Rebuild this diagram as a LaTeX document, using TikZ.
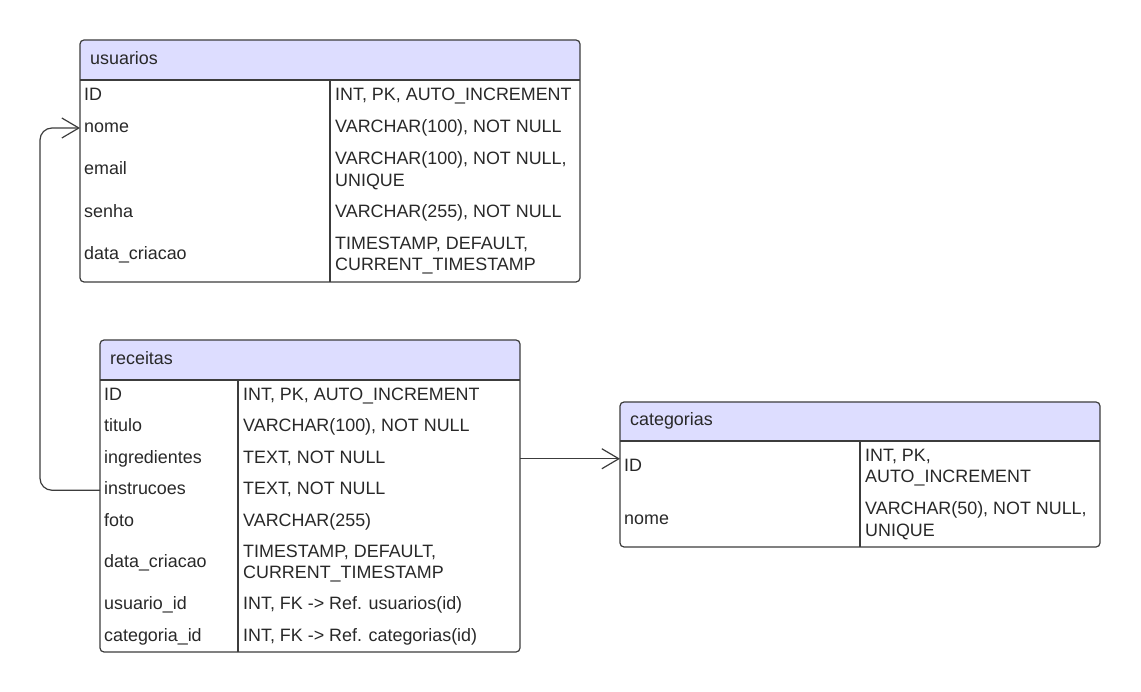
\documentclass[tikz,border=0pt]{standalone}
\usepackage{fontspec}
\setmainfont{Liberation Sans}
\usetikzlibrary{arrows.meta}
\definecolor{hdrblue}{RGB}{221,221,255}
\definecolor{linegray}{RGB}{60,60,60}
\definecolor{txtgray}{RGB}{40,40,40}

\begin{document}
\begin{tikzpicture}[x=1pt,y=-1pt,
	frame/.style={draw=linegray,line width=1.2pt,rounded corners=4pt,inner sep=0pt,outer sep=0pt},
	rule/.style={draw=linegray,line width=1.2pt},
	txt/.style={anchor=west,inner sep=0pt,text=txtgray,font=\fontsize{17.9}{21.5}\selectfont},
	fld/.style={txt,text height=12.8pt,text depth=4pt},
	fld2/.style={txt,align=left},
	link/.style={draw=linegray,line width=1.2pt,-{Straight Barb[length=17pt,width=20pt]}}]
	
	\useasboundingbox (0,0) rectangle (1141,692);
	
	% usuarios
	\fill[hdrblue,rounded corners=4pt] (80,40) rectangle (580,80);
	\fill[hdrblue] (80,60) rectangle (580,80);
	\node[frame,minimum width=500pt,minimum height=242pt] (us) at (330,161) {};
	\draw[rule] (80,80) -- (580,80);
	\draw[rule] (330,80) -- (330,282);
	\node[fld] (us-t)     at (90,60)     {usuarios};
	\node[fld] (us-id)    at (84,96)     {ID};
	\node[fld] (us-idv)   at (335,96)    {INT, PK, AUTO\_INCREMENT};
	\node[fld] (us-nome)  at (84,128)    {nome};
	\node[fld] (us-nomev) at (335,128)   {VARCHAR(100), NOT NULL};
	\node[fld] (us-mail)  at (84,170.5)  {email};
	\node[fld2] (us-mailv) at (335,170.5) {VARCHAR(100), NOT NULL,\\UNIQUE};
	\node[fld] (us-pw)    at (84,213)    {senha};
	\node[fld] (us-pwv)   at (335,213)   {VARCHAR(255), NOT NULL};
	\node[fld] (us-dt)    at (84,255.5)  {data\_criacao};
	\node[fld2] (us-dtv)  at (335,255.5) {TIMESTAMP, DEFAULT,\\CURRENT\_TIMESTAMP};
	
	% receitas
	\fill[hdrblue,rounded corners=4pt] (100,340) rectangle (520,380);
	\fill[hdrblue] (100,360) rectangle (520,380);
	\node[frame,minimum width=420pt,minimum height=312pt] (rc) at (310,496) {};
	\draw[rule] (100,380) -- (520,380);
	\draw[rule] (238,380) -- (238,652);
	\node[fld] (rc-t)     at (110,360)    {receitas};
	\node[fld] (rc-id)    at (104,395.75) {ID};
	\node[fld] (rc-idv)   at (243,395.75) {INT, PK, AUTO\_INCREMENT};
	\node[fld] (rc-tit)   at (104,427.25) {titulo};
	\node[fld] (rc-titv)  at (243,427.25) {VARCHAR(100), NOT NULL};
	\node[fld] (rc-ing)   at (104,458.75) {ingredientes};
	\node[fld] (rc-ingv)  at (243,458.75) {TEXT, NOT NULL};
	\node[fld] (rc-ins)   at (104,490.25) {instrucoes};
	\node[fld] (rc-insv)  at (243,490.25) {TEXT, NOT NULL};
	\node[fld] (rc-foto)  at (104,521.75) {foto};
	\node[fld] (rc-fotov) at (243,521.75) {VARCHAR(255)};
	\node[fld] (rc-dt)    at (104,563.5)  {data\_criacao};
	\node[fld2] (rc-dtv)  at (243,563.5)  {TIMESTAMP, DEFAULT,\\CURRENT\_TIMESTAMP};
	\node[fld] (rc-us)    at (104,605.25) {usuario\_id};
	\node[fld] (rc-usv)   at (243,605.25) {INT, FK -> Ref. usuarios(id)};
	\node[fld] (rc-ct)    at (104,636.75) {categoria\_id};
	\node[fld] (rc-ctv)   at (243,636.75) {INT, FK -> Ref. categorias(id)};
	
	% categorias
	\fill[hdrblue,rounded corners=4pt] (620,402) rectangle (1100,441);
	\fill[hdrblue] (620,421) rectangle (1100,441);
	\node[frame,minimum width=480pt,minimum height=145pt] (ct) at (860,474.5) {};
	\draw[rule] (620,441) -- (1100,441);
	\draw[rule] (860,441) -- (860,547);
	\node[fld] (ct-t)     at (630,421.5) {categorias};
	\node[fld] (ct-id)    at (624,467.5) {ID};
	\node[fld2] (ct-idv)  at (865,467.5) {INT, PK,\\AUTO\_INCREMENT};
	\node[fld] (ct-nome)  at (624,520.5) {nome};
	\node[fld2] (ct-nomev) at (865,520.5) {VARCHAR(50), NOT NULL,\\UNIQUE};
	
	% links
	\draw[link,rounded corners=12pt] (rc.west |- rc-ins) -- ++(-60,0) |- (us.west |- us-nome);
	\draw[link] (rc.east |- rc-ing) -- (ct.west |- rc-ing);
	
\end{tikzpicture}
\end{document}
